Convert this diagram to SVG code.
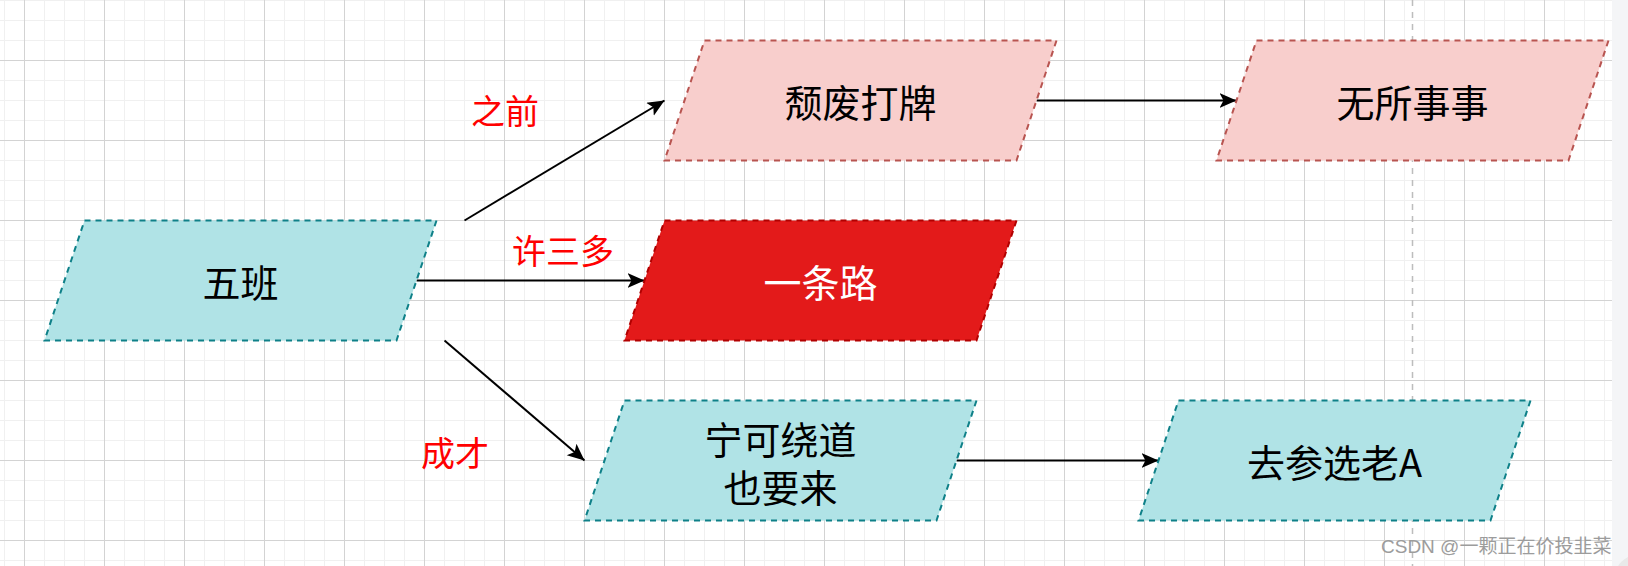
<svg xmlns="http://www.w3.org/2000/svg" width="1628" height="566" viewBox="0 0 1628 566">
<style>
.teal{fill:#b0e3e6;stroke:#0e8088;stroke-width:2;stroke-dasharray:6 5}
.pink{fill:#f8cecc;stroke:#b85450;stroke-width:2;stroke-dasharray:6 5}
.red{fill:#e31a1a;stroke:#b20000;stroke-width:2;stroke-dasharray:6 5}
.t{font-family:"Noto Sans CJK SC","Noto Sans",sans-serif;font-size:38px;text-anchor:middle;dominant-baseline:central;fill:#000}
.lbl{font-family:"Noto Sans CJK SC","Noto Sans",sans-serif;font-size:34px;text-anchor:middle;dominant-baseline:central;fill:#ff0000}
.edge{fill:none;stroke:#000;stroke-width:2}
</style>
<defs>
<pattern id="grid" x="0" y="0" width="80" height="80" patternUnits="userSpaceOnUse">
<path d="M4.5,0V80M24.5,0V80M44.5,0V80M64.5,0V80M0,0.5H80M0,20.5H80M0,40.5H80M0,60.5H80" stroke="#f0f0f0" stroke-width="1" fill="none"/>
<path d="M24.5,0V80M0,60.5H80" stroke="#d3d3d3" stroke-width="1" fill="none"/>
</pattern>
<marker id="arr" markerUnits="userSpaceOnUse" markerWidth="18" markerHeight="16" refX="17" refY="7.5" orient="auto" viewBox="0 0 18 16">
<path d="M0,0 L17,7.5 L0,15 L4,7.5 Z" fill="#000"/>
</marker>
</defs>
<rect x="0" y="0" width="1628" height="566" fill="#ffffff"/>
<rect x="0" y="0" width="1612" height="566" fill="url(#grid)"/>
<rect x="1612" y="0" width="16" height="566" fill="#f4f5f7"/>
<line x1="1412.5" y1="0" x2="1412.5" y2="566" stroke="#bdbdbd" stroke-width="1.5" stroke-dasharray="6 6"/>

<g id="connectors">
<line class="edge" x1="464.5" y1="220.5" x2="664.5" y2="100.5" marker-end="url(#arr)"/>
<line class="edge" x1="416.5" y1="280.5" x2="644.5" y2="280.5" marker-end="url(#arr)"/>
<line class="edge" x1="444.5" y1="340.5" x2="584.5" y2="460.5" marker-end="url(#arr)"/>
<line class="edge" x1="1036.5" y1="100.5" x2="1236.5" y2="100.5" marker-end="url(#arr)"/>
<line class="edge" x1="956.5" y1="460.5" x2="1158.5" y2="460.5" marker-end="url(#arr)"/>
<text class="lbl" x="505" y="109">之前</text>
<text class="lbl" x="563" y="249">许三多</text>
<text class="lbl" x="455" y="451">成才</text>
</g>

<g id="node-wuban">
<polygon class="teal" points="84.5,220.5 436.5,220.5 396.5,340.5 44.5,340.5"/>
<text class="t" x="240.5" y="280.5">五班</text>
</g>
<g id="node-tuifei">
<polygon class="pink" points="704.5,40.5 1056.5,40.5 1016.5,160.5 664.5,160.5"/>
<text class="t" x="860.5" y="100.5">颓废打牌</text>
</g>
<g id="node-wusuo">
<polygon class="pink" points="1256.5,40.5 1608.5,40.5 1568.5,160.5 1216.5,160.5"/>
<text class="t" x="1412.5" y="100.5">无所事事</text>
</g>
<g id="node-yitiaolu">
<polygon class="red" points="664.5,220.5 1016.5,220.5 976.5,340.5 624.5,340.5"/>
<text class="t" x="820.5" y="280.5" style="fill:#ffffff">一条路</text>
</g>
<g id="node-ningke">
<polygon class="teal" points="624.5,400.5 976.5,400.5 936.5,520.5 584.5,520.5"/>
<text class="t" x="780.5" y="436.5"><tspan x="780.5" y="436.5">宁可绕道</tspan><tspan x="780.5" y="484.5">也要来</tspan></text>
</g>
<g id="node-qucan">
<polygon class="teal" points="1178.5,400.5 1530.5,400.5 1490.5,520.5 1138.5,520.5"/>
<text class="t" x="1334.5" y="460.5">去参选老A</text>
</g>

<text x="1381" y="553" font-family="'Liberation Sans','Noto Sans CJK SC',sans-serif" font-size="19" fill="#9c9c9c">CSDN @一颗正在价投韭菜</text>
<circle cx="1640" cy="580" r="26" fill="#e9e9e9"/>
</svg>
